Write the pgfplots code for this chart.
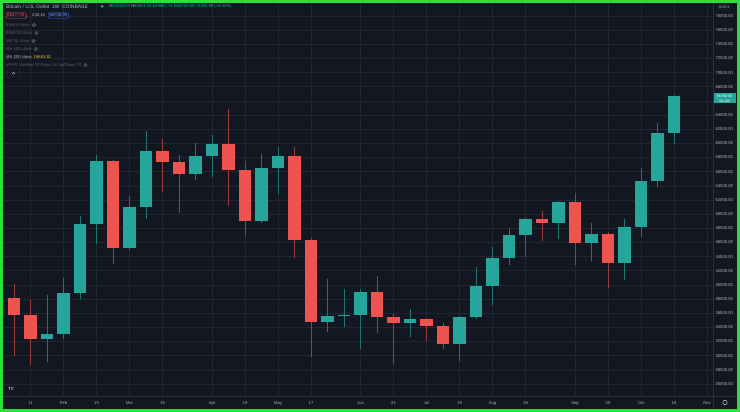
\documentclass[border=0pt]{standalone}
\usepackage{fontspec}
\setmainfont{Liberation Sans}
\newfontfamily\symfont{DejaVu Sans}
\usepackage{pgfplots}
\usepackage{pgfplotstable}
\pgfplotsset{compat=1.18}

\definecolor{bg}{HTML}{131722}
\definecolor{gridc}{HTML}{222632}
\definecolor{upc}{HTML}{26A69A}
\definecolor{dnc}{HTML}{EF5350}
\definecolor{upw}{HTML}{1E7870}
\definecolor{dnw}{HTML}{9E3B3F}
\definecolor{txt}{HTML}{B2B5BE}
\definecolor{dim}{HTML}{5D606B}
\definecolor{frame}{HTML}{2A2E39}
\definecolor{border}{HTML}{2BE03A}
\definecolor{bluec}{HTML}{2962FF}
\definecolor{yel}{HTML}{F0C43C}

% weekly candles: index, open, high, low, close
\pgfplotstableread{
i  O     H     L     C
2  32310 38530 29110 33100
3  33100 40940 32310 38820
4  38820 49690 37970 48650
5  48650 58360 45740 57470
7  45170 52600 45000 50960
8  50960 61750 49260 58920
11 55720 60000 54830 58170
12 58170 61200 55300 59960
15 49030 58500 48800 56570
16 56570 59530 52800 58260
19 34720 40840 33300 35610
20 35610 39380 34100 35750
21 35750 39420 30890 38960
24 34660 36600 32690 35230
27 31690 35600 29250 35420
28 35420 42530 35140 39810
29 39810 45320 37210 43800
30 43800 48090 42820 47010
31 47010 49500 43930 49270
33 48790 51900 46450 51760
35 45970 48790 43420 47200
37 43100 49270 40700 48230
38 48230 56480 46810 54680
39 54680 62920 53830 61510
40 61510 66820 59890 66708
}\upcandles
\pgfplotstableread{
i  O     H     L     C
0  38110 40090 29960 35750
1  35750 37870 28680 32310
6  57470 57600 42960 45170
9  58920 60570 53170 57330
10 57330 58360 50230 55720
13 59960 64860 51220 56200
14 56200 57560 47010 49030
17 58260 59530 43760 46390
18 46390 46600 29860 34720
22 38960 41260 33250 35520
23 35520 35900 28870 34660
25 35230 35300 32010 34200
26 34200 34580 30940 31690
32 49270 50490 46250 48790
34 51760 52940 42770 45970
36 47200 47500 39560 43100
}\dncandles

\newcommand{\sm}{\fontsize{4.2}{5}\selectfont}

\begin{document}
\begin{tikzpicture}[x=1pt,y=1pt]
\useasboundingbox (0,0) rectangle (740,412);
\fill[border] (0,0) rectangle (740,412);
\fill[bg] (3,3) rectangle (737,409);

\begin{axis}[
  at={(3pt,16pt)}, anchor=south west, scale only axis,
  width=710pt, height=393pt,
  xmin=-0.667, xmax=42.36, ymin=24300, ymax=79840,
  axis line style={draw=none}, tick style={draw=none},
  xtick={1,3,5,7,9,12,14,16,18,21,23,25,27,29,31,34,36,38,40,42},
  xticklabels={11,Feb,15,Mar,15,Apr,19,May,17,Jun,21,Jul,19,Aug,16,Sep,20,Oct,18,Nov},
  ytick={26000,28000,30000,32000,34000,36000,38000,40000,42000,44000,46000,48000,50000,
    52000,54000,56000,58000,60000,62000,64000,68000,70000,72000,74000,76000,78000},
  extra y ticks={66000}, extra y tick labels={},
  scaled y ticks=false,
  yticklabel pos=right,
  grid=major, major grid style={draw=gridc, line width=0.6pt},
  /pgf/number format/assume math mode=true,
  yticklabel style={font=\sm, text=txt, anchor=west, xshift=-1pt,
    /pgf/number format/fixed, /pgf/number format/fixed zerofill,
    /pgf/number format/precision=2, /pgf/number format/1000 sep={}},
  xticklabel style={font=\sm, text=txt, yshift=-1.5pt, text height=3pt, text depth=0.9pt},
  candle/.style={draw=none, mark=none,
    error bars/.cd, y dir=plus, y explicit, error mark=none,
    error bar style={draw=#1, line width=12.6pt}},
  wick/.style={draw=none, mark=none,
    error bars/.cd, y dir=plus, y explicit, error mark=none,
    error bar style={draw=#1, line width=0.65pt}},
]
% wicks
\addplot[wick=upw] table[x=i, y=L, y error plus expr=\thisrow{H}-\thisrow{L}] {\upcandles};
\addplot[wick=dnw] table[x=i, y=L, y error plus expr=\thisrow{H}-\thisrow{L}] {\dncandles};
% bodies
\addplot[candle=upc] table[x=i, y=O, y error plus expr=\thisrow{C}-\thisrow{O}] {\upcandles};
\addplot[candle=dnc] table[x=i, y=C, y error plus expr=\thisrow{O}-\thisrow{C}] {\dncandles};
\end{axis}

% scale separators
\draw[frame, line width=0.7pt] (713,3) -- (713,409);
\draw[frame, line width=0.7pt] (3,16) -- (737,16);

% current price tag
\fill[upc] (713.5,308.5) rectangle (735.5,318.5);
\node[text=white, font=\fontsize{3.6}{4}\selectfont, inner sep=0pt] at (724.5,315.8) {66708.09};
\node[text=white, font=\fontsize{3.6}{4}\selectfont, inner sep=0pt] at (724.5,311.2) {4d 10h};

% USD button and settings icon
\node[draw=frame, rounded corners=1pt, text=txt, font=\fontsize{3.6}{4}\selectfont, inner sep=1pt] at (724,405) {USD {\symfont▾}};
\draw[txt!70, line width=0.5pt] (725,9.5) circle (2.2);
\node[text=txt, font=\fontsize{4.5}{5}\selectfont\bfseries, inner sep=0pt] at (11,23) {TV};

% header
\node[anchor=west, text=txt, font=\fontsize{5}{6}\selectfont, inner sep=0pt] at (6,405.5) {Bitcoin / U.S. Dollar\enspace 1W\enspace COINBASE};
\fill[upc] (102,405.5) circle (1.5);
\node[anchor=west, font=\sm, inner sep=0pt] at (109,405.5) {\textcolor{txt}{O}\textcolor{upc}{61530.07} \textcolor{txt}{H}\textcolor{upc}{66821.04} \textcolor{txt}{L}\textcolor{upc}{59887.74} \textcolor{txt}{C}\textcolor{upc}{66708.09} \textcolor{upc}{+5180.98 (+8.42\%)}};
\node[anchor=west, draw=dnc, rounded corners=1pt, text=dnc, font=\sm, inner sep=1.3pt] at (6,396.5) {66477.91};
\node[anchor=west, text=txt, font=\sm, inner sep=0pt] at (32,396.5) {230.18};
\node[anchor=west, draw=bluec, rounded corners=1pt, text=bluec!60!white, font=\sm, inner sep=1.3pt] at (48,396.5) {66708.09};

\node[anchor=west, text=dim, font=\sm, inner sep=0pt] (l1) at (6,387) {EMA 8 close};
\node[anchor=west, text=dim, font=\sm, inner sep=0pt] (l2) at (6,379) {EMA 20 close};
\node[anchor=west, text=dim, font=\sm, inner sep=0pt] (l3) at (6,371) {MA 50 close};
\node[anchor=west, text=dim, font=\sm, inner sep=0pt] (l4) at (6,363) {MA 100 close};
\node[anchor=west, font=\sm, inner sep=0pt] (l5) at (6,355) {\textcolor{txt}{MA 200 close}\enspace\textcolor{yel}{16653.81}};
\node[anchor=west, text=dim, font=\sm, inner sep=0pt] (l6) at (6,347) {VPVR Number Of Rows 24 Up/Down 70};
\foreach \n in {l1,l2,l3,l4,l6}{
  \draw[dim, line width=0.5pt] ([xshift=4pt]\n.east) circle (1.7);
  \draw[dim, line width=0.4pt] ([xshift=2.8pt,yshift=-1.2pt]\n.east) -- ([xshift=5.2pt,yshift=1.2pt]\n.east);
}
\draw[frame, line width=0.5pt, rounded corners=1pt] (7,335) rectangle (20,343);
\draw[txt!70, line width=0.4pt] (12,338) -- (13.5,339.6) -- (15,338);
\end{tikzpicture}
\end{document}
